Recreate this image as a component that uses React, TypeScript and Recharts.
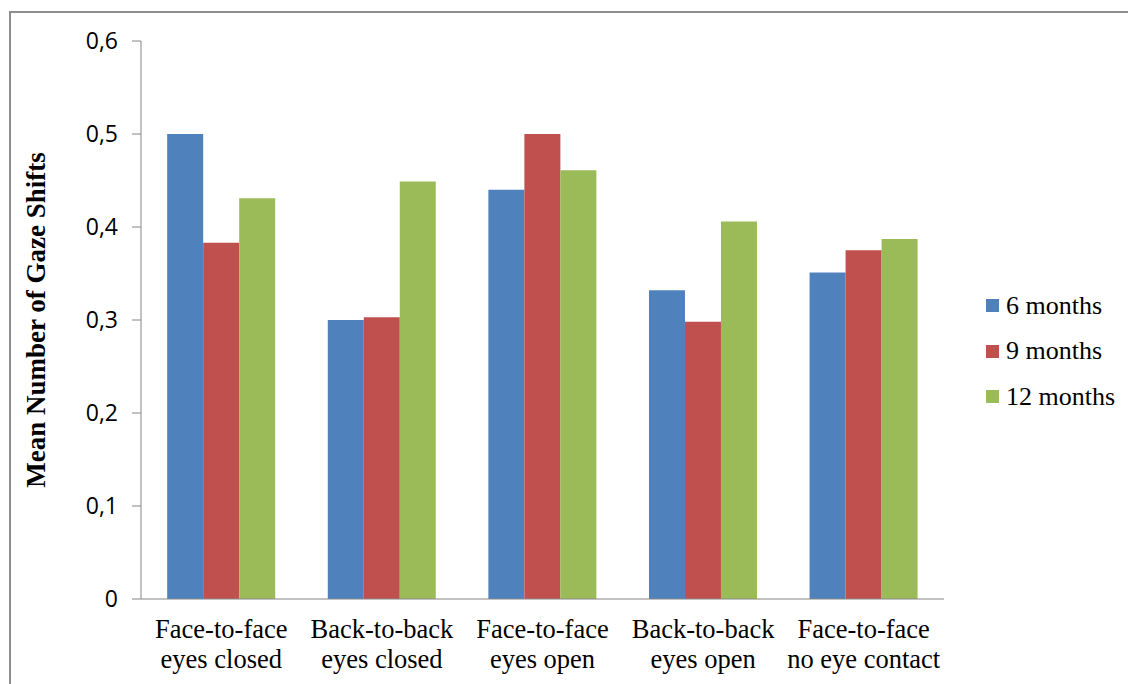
import { BarChart, Bar, XAxis, YAxis, Legend } from 'recharts';

const categories = [
  'Face-to-face\neyes closed',
  'Back-to-back\neyes closed',
  'Face-to-face\neyes open',
  'Back-to-back\neyes open',
  'Face-to-face\nno eye contact',
];
const sixMonths = [0.5, 0.3, 0.44, 0.332, 0.351];
const nineMonths = [0.383, 0.303, 0.5, 0.298, 0.375];
const twelveMonths = [0.431, 0.449, 0.461, 0.406, 0.387];
const yTicks = [0, 0.1, 0.2, 0.3, 0.4, 0.5, 0.6];
const boundaryTicks = [0, 1, 2, 3, 4, 5];

const SERIES = [
  { key: 'six', name: '6 months', color: '#4F81BD' },
  { key: 'nine', name: '9 months', color: '#C0504D' },
  { key: 'twelve', name: '12 months', color: '#9BBB59' },
];

const AXIS = '#868686';
const SERIF = 'Liberation Serif, Times New Roman, serif';

const data = categories.map((name, i) => ({
  name,
  six: sixMonths[i],
  nine: nineMonths[i],
  twelve: twelveMonths[i],
}));

function CategoryTick({ x, y, payload }: any) {
  const lines = String(payload.value).split('\n');
  return (
    <text x={x} y={y} textAnchor="middle" fontFamily={SERIF} fontSize={26.5} fill="#000">
      {lines.map((l, i) => (
        <tspan key={i} x={x} dy={i === 0 ? 39 : 30}>{l}</tspan>
      ))}
    </text>
  );
}

// legend drawn in series order, not sorted
function LegendBox() {
  return (
    <div>
      {SERIES.map((s) => (
        <div key={s.key} style={{ height: 45.5, display: 'flex', alignItems: 'center' }}>
          <span style={{ width: 13, height: 13, background: s.color, marginRight: 7, display: 'inline-block' }} />
          <span style={{ fontFamily: SERIF, fontSize: 26, color: '#000' }}>{s.name}</span>
        </div>
      ))}
    </div>
  );
}

export default function App() {
  return (
    <div style={{ position: 'relative', width: 1128, height: 676, overflow: 'hidden', background: '#fff' }}>
      <div
        style={{
          position: 'absolute', left: 1, top: 3, right: -20, bottom: -20,
          borderLeft: '2px solid #8e8e8e', borderTop: '2px solid #8e8e8e',
        }}
      />
      <BarChart
        width={1128}
        height={676}
        data={data}
        margin={{ top: 33, right: 192, bottom: 5, left: 0 }}
        barCategoryGap="16.3%"
        barGap={0}
      >
        <XAxis
          xAxisId="bounds"
          type="number"
          domain={[0, 5]}
          ticks={boundaryTicks}
          allowDataOverflow
          height={0}
          axisLine={false}
          tickLine={{ stroke: AXIS }}
          tickSize={8}
          tick={() => <g />}
        />
        <XAxis
          dataKey="name"
          height={80}
          interval={0}
          axisLine={{ stroke: AXIS }}
          tickLine={false}
          tickSize={0}
          tickMargin={0}
          tick={<CategoryTick />}
        />
        <YAxis
          width={133}
          domain={[0, 0.6]}
          ticks={yTicks}
          axisLine={{ stroke: AXIS }}
          tickLine={{ stroke: AXIS }}
          tickSize={9}
          tickMargin={14}
          tickFormatter={(v: number) => String(v).replace('.', ',')}
          tick={{ fill: '#000', fontSize: 23, fontFamily: '"Open Sans", sans-serif' }}
          label={{
            value: 'Mean Number of Gaze Shifts',
            angle: -90,
            position: 'center',
            dx: -39,
            style: { fontFamily: SERIF, fontSize: 27, fontWeight: 'bold', fill: '#000' },
          }}
        />
        <Legend
          layout="vertical"
          align="center"
          verticalAlign="middle"
          content={<LegendBox />}
          wrapperStyle={{ left: 978, top: 275, width: 150 }}
        />
        {SERIES.map((s) => (
          <Bar key={s.key} dataKey={s.key} name={s.name} fill={s.color} isAnimationActive={false} />
        ))}
      </BarChart>
    </div>
  );
}
